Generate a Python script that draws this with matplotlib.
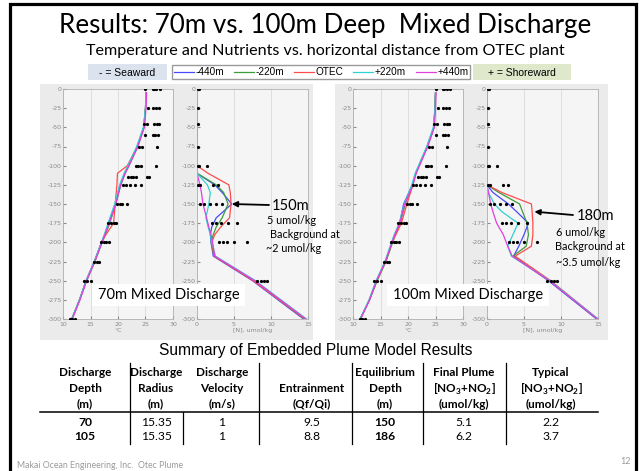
import numpy as np
import matplotlib
matplotlib.use("Agg")
import matplotlib.pyplot as plt
from matplotlib.patches import Rectangle

plt.rcParams['axes.unicode_minus'] = False
plt.rcParams['mathtext.fontset'] = 'custom'
plt.rcParams['mathtext.rm'] = 'Lato'
plt.rcParams['mathtext.bf'] = 'Lato:bold'

W, H = 639, 471

# model series (5 horizontal positions)
series_labels = ['-440m', '-220m', 'OTEC', '+220m', '+440m']
series_colors = ['#4848ff', '#3c9c3c', '#ff4c4c', '#2fd2d2', '#e040e0']

# temperature profiles (degC) vs depth (m)
t_depth = [-5, -25, -50, -75, -100, -110, -125, -150, -175, -190, -200, -225, -250, -275, -300]
t70_m440 = [25.1, 25.0, 24.7, 23.5, 21.9, 21.2, 20.4, 19.5, 18.3, 17.6, 17.0, 15.7, 14.2, 13.0, 11.6]
t70_m220 = [25.1, 25.0, 24.7, 23.6, 22.0, 21.3, 20.5, 19.6, 18.5, 17.7, 17.1, 15.8, 14.3, 13.0, 11.6]
t70_otec = [25.1, 25.0, 24.7, 23.5, 21.7, 19.9, 19.8, 19.5, 19.2, 17.8, 17.0, 15.7, 14.2, 13.0, 11.6]
t70_p220 = [25.1, 25.0, 24.6, 23.4, 21.8, 21.1, 20.3, 19.4, 18.2, 17.5, 17.0, 15.7, 14.2, 13.0, 11.6]
t70_p440 = [25.2, 25.1, 24.8, 23.6, 22.0, 21.3, 20.5, 19.6, 18.4, 17.6, 17.1, 15.8, 14.3, 13.1, 11.7]

t100_m440 = [25.0, 24.9, 24.7, 23.5, 22.0, 21.4, 20.8, 19.2, 18.5, 17.6, 17.1, 15.9, 14.3, 13.0, 11.3]
t100_m220 = [25.0, 24.9, 24.7, 23.5, 22.0, 21.4, 20.8, 19.5, 18.6, 17.7, 17.2, 16.0, 14.4, 13.0, 11.3]
t100_otec = [25.0, 24.9, 24.7, 23.5, 22.0, 21.4, 20.9, 19.8, 18.8, 17.8, 17.1, 15.9, 14.3, 13.0, 11.3]
t100_p220 = [25.0, 24.9, 24.6, 23.4, 21.9, 21.3, 20.7, 19.3, 18.4, 17.5, 17.0, 15.8, 14.2, 12.9, 11.3]
t100_p440 = [25.1, 25.0, 24.8, 23.6, 22.1, 21.5, 20.9, 19.4, 18.5, 17.6, 17.1, 15.9, 14.3, 13.0, 11.4]

# nutrient profiles [N] (umol/kg) vs depth (m)
n70_depth = [0, -100, -110, -125, -135, -150, -168, -180, -190, -200, -218, -250, -300]
n70_m440 = [0, 0.0, 0.0, 2.4, 3.4, 4.7, 2.6, 2.0, 1.8, 1.9, 2.2, 7.5, 14.4]
n70_m220 = [0, 0.0, 0.0, 2.6, 3.6, 4.2, 3.4, 2.6, 2.2, 1.9, 2.3, 7.7, 14.5]
n70_otec = [0, 0.0, 1.5, 4.3, 4.5, 4.6, 4.4, 3.2, 2.4, 2.0, 2.3, 7.6, 14.6]
n70_p220 = [0, 0.0, 0.0, 1.4, 1.8, 1.6, 1.2, 1.5, 1.8, 2.0, 2.5, 7.9, 14.8]
n70_p440 = [0, 0.0, 0.0, 0.4, 0.6, 0.8, 1.3, 1.6, 1.9, 2.1, 2.4, 7.8, 14.7]

n100_depth = [0, -125, -135, -150, -160, -175, -190, -205, -218, -250, -300]
n100_m440 = [0, 0.0, 0.8, 2.9, 4.0, 5.6, 5.0, 4.3, 3.6, 8.3, 14.8]
n100_m220 = [0, 0.0, 1.6, 4.4, 4.8, 5.4, 5.6, 5.3, 3.5, 8.4, 14.9]
n100_otec = [0, 0.0, 2.0, 6.0, 6.1, 6.2, 6.2, 6.0, 3.8, 8.6, 15.0]
n100_p220 = [0, 0.0, 0.2, 1.0, 2.0, 4.2, 3.5, 2.8, 3.3, 8.5, 15.0]
n100_p440 = [0, 0.0, 0.2, 0.5, 0.8, 1.3, 2.2, 2.8, 3.4, 8.4, 14.9]

# observed profile data (same for both cases)
obs_depth = [0, -25, -45, -60, -75, -100, -115, -125, -150, -175, -200, -225, -250, -300]
obs_temp = [[25.0, 26.3, 26.6, 27.0, 27.6], [25.5, 26.4, 26.9, 27.4], [24.8, 25.3, 26.6, 27.1, 27.4],
            [25.0, 26.3, 26.8, 27.3], [23.8, 24.3, 27.1], [23.2, 23.7, 24.2, 26.9],
            [21.8, 22.3, 22.8, 23.3, 25.3, 25.7], [20.9, 21.5, 22.2, 23.0, 24.1],
            [19.8, 20.3, 20.8, 21.6], [18.2, 18.7, 19.2, 19.6], [16.9, 17.4, 17.9, 18.4],
            [15.7, 16.2, 16.6], [13.8, 14.4, 15.1], [11.2, 11.7, 12.2]]
obs_nut = [[0.1, 0.3], [0.1], [0.1], [], [0.1], [0.1, 0.3, 1.3], [],
           [0.1, 0.4, 2.1, 2.8], [0.4, 1.0, 1.8, 2.6, 3.4], [2.0, 2.5, 3.3, 4.2, 5.4],
           [3.0, 3.5, 4.1, 5.0, 6.7], [], [8.1, 8.6, 9.0, 9.5], []]

# summary table
col_heads = [("Discharge", "Depth", "(m)"), ("Discharge", "Radius", "(m)"), ("Discharge", "Velocity", "(m/s)"),
             ("", "Entrainment", "(Qf/Qi)"), ("Equilibrium", "Depth", "(m)"),
             ("Final Plume", r"[NO$_\mathbf{3}$+NO$_\mathbf{2}$]", "(umol/kg)"),
             ("Typical", r"[NO$_\mathbf{3}$+NO$_\mathbf{2}$]", "(umol/kg)")]
row_70 = ['70', '15.35', '1', '9.5', '150', '5.1', '2.2']
row_105 = ['105', '15.35', '1', '8.8', '186', '6.2', '3.7']
bold_cols = [0, 4]


def px_rect(x0, y0, x1, y1):
    return [x0 / W, 1 - y1 / H, (x1 - x0) / W, (y1 - y0) / H]


fig = plt.figure(figsize=(W / 100, H / 100), dpi=100)
bg = fig.add_axes([0, 0, 1, 1])
bg.set_xlim(0, W)
bg.set_ylim(H, 0)
bg.axis('off')

# slide frame
bg.plot([10, 10, 636, 636], [H + 5, 4, 4, H + 5], color='black', lw=2.3, solid_joinstyle='miter')

bg.text(325, 25, "Results: 70m vs. 100m Deep  Mixed Discharge", ha='center', va='center',
        fontsize=18.7, family='Lato')
bg.text(325, 51, "Temperature and Nutrients vs. horizontal distance from OTEC plant", ha='center',
        va='center', fontsize=11.6, family='Lato')

# legend strip
bg.add_patch(Rectangle((88, 64), 79, 16, fc='#dbe3ef', ec='none'))
bg.text(127, 72.5, "- = Seaward", ha='center', va='center', fontsize=7.5, family='Liberation Sans')
bg.add_patch(Rectangle((473, 64), 98, 16, fc='#dfe8cb', ec='none'))
bg.text(522, 72.5, "+ = Shoreward", ha='center', va='center', fontsize=7.5, family='Liberation Sans')

# gray plot panels
for x0 in [40, 335]:
    bg.add_patch(Rectangle((x0, 84), 273, 256, fc='#ebebeb', ec='none'))


def style(ax, xlim, xticks, xlabel):
    ax.set_facecolor('#f5f5f5')
    ax.set_xlim(xlim)
    ax.set_ylim(-300, 0)
    ax.set_xticks(xticks)
    ax.set_yticks(np.arange(-300, 1, 25))
    ax.tick_params(labelsize=4.5, colors='#8a8a8a', length=2, direction='in', pad=1)
    ax.tick_params(axis='x', pad=2.5)
    for s in ax.spines.values():
        s.set_color('#b0b0b0')
        s.set_linewidth(0.6)
    ax.grid(axis='x', color='#dadada', lw=0.6)
    ax.set_xlabel(xlabel, fontsize=4.5, color='#8a8a8a', labelpad=0.5)


def draw_obs(ax, values):
    for d, vals in zip(obs_depth, values):
        ax.plot(vals, [d] * len(vals), '.', color='black', ms=2.6, zorder=3)


cases = [
    (63, [t70_m440, t70_m220, t70_otec, t70_p220, t70_p440], n70_depth,
     [n70_m440, n70_m220, n70_otec, n70_p220, n70_p440]),
    (353, [t100_m440, t100_m220, t100_otec, t100_p220, t100_p440], n100_depth,
     [n100_m440, n100_m220, n100_otec, n100_p220, n100_p440]),
]
nut_axes = []
handles = []
for x0, temps, n_depth, nuts in cases:
    ax_t = fig.add_axes(px_rect(x0, 89, x0 + 110, 319))
    style(ax_t, (10, 30), [10, 15, 20, 25, 30], u"\u00b0C")
    for vals, col in zip(temps, series_colors):
        ax_t.plot(vals, t_depth, color=col, lw=0.9)
    draw_obs(ax_t, obs_temp)

    ax_n = fig.add_axes(px_rect(x0 + 134, 89, x0 + 245, 319))
    style(ax_n, (0, 15), [0, 5, 10, 15], "[N], umol/kg")
    # the -275 label sits under the white case label box
    ax_n.set_yticklabels(['' if v == -275 else str(v) for v in range(-300, 1, 25)])
    handles = []
    for vals, col, lab in zip(nuts, series_colors, series_labels):
        h, = ax_n.plot(vals, n_depth, color=col, lw=0.9, label=lab)
        handles.append(h)
    draw_obs(ax_n, obs_nut)
    nut_axes.append(ax_n)

fig.legend(handles=handles, labels=series_labels, loc='center', bbox_to_anchor=(321 / W, 1 - 72 / H),
           ncol=5, prop={'family': 'Liberation Sans', 'size': 7.2}, handlelength=2.0, handletextpad=0.15,
           columnspacing=1.0, frameon=True, fancybox=False, edgecolor='#9a9a9a', borderpad=0.2,
           borderaxespad=0, framealpha=1)

top = fig.add_axes([0, 0, 1, 1], zorder=10)
top.set_xlim(0, W)
top.set_ylim(H, 0)
top.axis('off')

# annotations
ax_l, ax_r = nut_axes
i150 = n70_depth.index(-150)
ax_l.annotate('', xy=(n70_m440[i150], n70_depth[i150]), xytext=(269, 205), textcoords=top.transData,
              arrowprops=dict(arrowstyle='-|>', color='black', lw=1.3, mutation_scale=8,
                              shrinkA=0, shrinkB=0), annotation_clip=False)
top.text(272, 206, "150m", ha='left', va='center', fontsize=10.5, family='Lato')
top.text(267, 220, "5 umol/kg", ha='left', va='center', fontsize=7.8, family='Lato')
top.text(270, 235, "Background at", ha='left', va='center', fontsize=7.8, family='Lato')
top.text(266, 249, "~2 umol/kg", ha='left', va='center', fontsize=7.8, family='Lato')

i160 = n100_depth.index(-160)
ax_r.annotate('', xy=(n100_otec[i160] + 0.3, n100_depth[i160]), xytext=(573, 215),
              textcoords=top.transData,
              arrowprops=dict(arrowstyle='-|>', color='black', lw=1.3, mutation_scale=8,
                              shrinkA=0, shrinkB=0), annotation_clip=False)
top.text(577, 216, "180m", ha='left', va='center', fontsize=10.5, family='Lato')
top.text(556, 233, "6 umol/kg", ha='left', va='center', fontsize=7.8, family='Lato')
top.text(555, 247, "Background at", ha='left', va='center', fontsize=7.8, family='Lato')
top.text(556, 262, "~3.5 umol/kg", ha='left', va='center', fontsize=7.8, family='Lato')

# case label boxes
top.add_patch(Rectangle((92, 284), 153, 22, fc='white', ec='none'))
top.text(168.5, 295.5, "70m Mixed Discharge", ha='center', va='center', fontsize=10.5, family='Lato')
top.add_patch(Rectangle((387, 284), 162, 22, fc='white', ec='none'))
top.text(468, 295.5, "100m Mixed Discharge", ha='center', va='center', fontsize=10.5, family='Lato')

# summary table
top.text(316, 350, "Summary of Embedded Plume Model Results", ha='center', va='center',
         fontsize=11.2, family='Liberation Sans')
col_x = [85, 156, 222, 312, 385, 464, 551]
head_y = [373, 389, 404]
for cx, heads in zip(col_x, col_heads):
    for hy, txt in zip(head_y, heads):
        top.text(cx, hy, txt, ha='center', va='center', fontsize=8.5, family='Lato', fontweight='bold')
for ry, row in zip([423, 437], [row_70, row_105]):
    for j, (cx, val) in enumerate(zip(col_x, row)):
        top.text(cx, ry, val, ha='center', va='center', fontsize=8.7, family='Lato',
                 fontweight='bold' if j in bold_cols else 'normal')
top.plot([40, 598], [411.5, 411.5], color='black', lw=1.1)
for vx in [130, 259, 352, 423, 506]:
    top.plot([vx, vx], [363, 444], color='black', lw=0.9)
top.plot([183, 183], [412, 444], color='black', lw=0.9)

# footer
top.text(17, 466, "Makai Ocean Engineering, Inc.  Otec Plume", ha='left', va='center', fontsize=6.3,
         family='Lato', color='#9a9a9a')
top.text(631, 462, "12", ha='right', va='center', fontsize=6.5, family='Lato', color='#9a9a9a')

fig.savefig("out.png", dpi=100)
